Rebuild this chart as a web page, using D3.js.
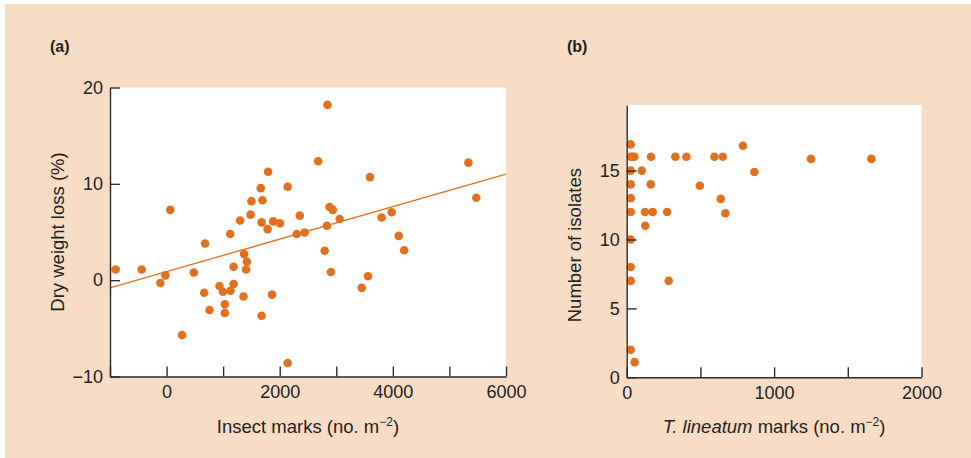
<!DOCTYPE html>
<html>
<head>
<meta charset="utf-8">
<script src="https://cdn.jsdelivr.net/npm/d3@7"></script>
<style>
  html, body { margin: 0; padding: 0; background: #ffffff; }
  svg { display: block; font-family: "Liberation Sans", Arial, Helvetica, sans-serif; }
</style>
</head>
<body>
<svg id="chart" width="971" height="458"></svg>
<script>
// ---------- Data ----------
// Panel (a)
const insectMarks = [-900, -440, -110, -20, 65, 480, 680, 665, 760, 275, 935, 995, 1130, 1030, 1030, 1185, 1185, 1125,
  1370, 1420, 1405, 1360, 1680, 1865, 2140, 1785, 2300, 2440, 1300, 1485, 1680, 1885, 2005, 1500, 1695, 1665, 1795,
  2140, 2355, 2680, 2845, 3595, 5335, 5475, 2880, 2940, 3060, 2835, 3800, 3980, 4105, 2795, 2905, 3450, 3560, 4200];
const dryWeightLoss = [1.1, 1.1, -0.3, 0.5, 7.3, 0.8, 3.8, -1.3, -3.1, -5.7, -0.6, -1.2, -1.1, -2.5, -3.4, -0.4, 1.4, 4.8,
  2.7, 1.9, 1.1, -1.7, -3.7, -1.5, -8.6, 5.3, 4.8, 4.95, 6.2, 6.8, 6.0, 6.1, 5.9, 8.2, 8.3, 9.55, 11.25,
  9.7, 6.7, 12.35, 18.2, 10.7, 12.2, 8.55, 7.6, 7.3, 6.35, 5.65, 6.5, 7.05, 4.6, 3.05, 0.85, -0.8, 0.4, 3.1];
const fitX = [-1000, 6000];
const fitY = [-0.8, 11.0];
const aXTicks = [-1000, 0, 1000, 2000, 3000, 4000, 5000, 6000];
const aXLabels = [0, 2000, 4000, 6000];
const aYTicks = [-10, 0, 10, 20];

// Panel (b)
const lineatumMarks = [27, 27, 38, 52, 165, 330, 405, 595, 652, 788, 866, 27, 102, 27, 163, 496, 27, 638, 27, 124,
  176, 274, 669, 126, 27, 27, 27, 285, 27, 54, 1250, 1660];
const isolates = [16.9, 16, 16, 16, 16, 16, 16, 16, 16, 16.8, 14.9, 15, 15, 14, 14, 13.9, 13, 12.95, 12, 12,
  12, 12, 11.9, 11, 10, 8, 7, 7, 2, 1.1, 15.85, 15.85];
const bXTicks = [0, 500, 1000, 1500, 2000];
const bXLabels = [0, 1000, 2000];
const bYTicks = [0, 5, 10, 15];

// ---------- Style ----------
const BG = "#f9dcc4";
const DOT = "#e2711f";
const AXIS = "#2b2b2b";
const TEXT = "#222";
const TICK_FS = 18;
const TITLE_FS = 18.5;

const svg = d3.select("#chart");
svg.append("rect").attr("x", 5).attr("y", 4).attr("width", 966).attr("height", 454).attr("fill", BG);

function styleAxis(g) {
  g.select(".domain").attr("stroke", AXIS).attr("stroke-width", 1.4);
  g.selectAll(".tick line").attr("stroke", AXIS).attr("stroke-width", 1.4);
  g.selectAll(".tick text").attr("fill", TEXT).attr("font-size", TICK_FS)
    .attr("font-family", "'Liberation Sans', Arial, sans-serif");
}

function superTitle(sel, x, y, parts) {
  const t = sel.append("text").attr("x", x).attr("y", y).attr("text-anchor", "middle")
    .attr("font-size", TITLE_FS).attr("fill", TEXT);
  parts.forEach(p => {
    const ts = t.append("tspan").text(p.t);
    if (p.italic) ts.attr("font-style", "italic");
    if (p.sup) ts.attr("baseline-shift", "super").attr("font-size", 12);
  });
  return t;
}

// ---------- Panel (a) ----------
{
  const x = d3.scaleLinear().domain([-1000, 6000]).range([110, 506]);
  const y = d3.scaleLinear().domain([-10, 20]).range([376.5, 87.5]);
  const g = svg.append("g");
  g.append("rect").attr("x", x.range()[0]).attr("y", y.range()[1])
    .attr("width", x.range()[1] - x.range()[0]).attr("height", y.range()[0] - y.range()[1]).attr("fill", "#fff");

  g.append("line")
    .attr("x1", x(fitX[0])).attr("y1", y(fitY[0])).attr("x2", x(fitX[1])).attr("y2", y(fitY[1]))
    .attr("stroke", DOT).attr("stroke-width", 1.3);

  g.selectAll("circle.a").data(insectMarks).join("circle")
    .attr("cx", d => x(d)).attr("cy", (d, i) => y(dryWeightLoss[i])).attr("r", 4.3).attr("fill", DOT);

  const xa = g.append("g").attr("transform", `translate(0,${y(-10)})`)
    .call(d3.axisBottom(x).tickValues(aXTicks).tickSizeInner(-10).tickSizeOuter(0).tickPadding(9)
      .tickFormat(d => aXLabels.includes(d) ? String(d) : ""));
  styleAxis(xa);
  const ya = g.append("g").attr("transform", `translate(${x(-1000)},0)`)
    .call(d3.axisLeft(y).tickValues(aYTicks).tickSizeInner(-10).tickSizeOuter(0).tickPadding(7)
      .tickFormat(d => d < 0 ? "\u2212" + Math.abs(d) : String(d)));
  styleAxis(ya);

  g.append("text").attr("x", 50).attr("y", 52).attr("font-size", 16).attr("font-weight", "bold")
    .attr("fill", TEXT).text("(a)");
  superTitle(g, (x.range()[0] + x.range()[1]) / 2, 433,
    [{t: "Insect marks (no. m"}, {t: "\u22122", sup: true}, {t: ")"}]);
  g.append("text").attr("transform", `translate(64,${(y.range()[0] + y.range()[1]) / 2}) rotate(-90)`)
    .attr("text-anchor", "middle").attr("font-size", TITLE_FS).attr("fill", TEXT).text("Dry weight loss (%)");
}

// ---------- Panel (b) ----------
{
  const x = d3.scaleLinear().domain([0, 2000]).range([626.7, 921.5]);
  const y = d3.scaleLinear().domain([0, 15]).range([377.3, 170.6]);
  const g = svg.append("g");
  const top = 105;
  g.append("rect").attr("x", x.range()[0]).attr("y", top)
    .attr("width", x.range()[1] - x.range()[0]).attr("height", y(0) - top).attr("fill", "#fff");

  g.selectAll("circle.b").data(lineatumMarks).join("circle")
    .attr("cx", d => x(d)).attr("cy", (d, i) => y(isolates[i])).attr("r", 4.3).attr("fill", DOT);

  const xa = g.append("g").attr("transform", `translate(0,${y(0)})`)
    .call(d3.axisBottom(x).tickValues(bXTicks).tickSizeInner(-10).tickSizeOuter(0).tickPadding(9)
      .tickFormat(d => bXLabels.includes(d) ? String(d) : ""));
  styleAxis(xa);
  const ya = g.append("g").attr("transform", `translate(${x(0)},0)`)
    .call(d3.axisLeft(y.copy().domain([0, (y(0) - top) / (y(0) - y(15)) * 15]).range([y(0), top]))
      .tickValues(bYTicks).tickSizeInner(-10).tickSizeOuter(0).tickPadding(7));
  styleAxis(ya);

  g.append("text").attr("x", 567).attr("y", 52).attr("font-size", 16).attr("font-weight", "bold")
    .attr("fill", TEXT).text("(b)");
  superTitle(g, (x.range()[0] + x.range()[1]) / 2, 433,
    [{t: "T. lineatum", italic: true}, {t: " marks (no. m"}, {t: "\u22122", sup: true}, {t: ")"}]);
  g.append("text").attr("transform", `translate(581,${(y(0) + top) / 2 + 4}) rotate(-90)`)
    .attr("text-anchor", "middle").attr("font-size", TITLE_FS).attr("fill", TEXT).text("Number of isolates");
}
</script>
</body>
</html>
